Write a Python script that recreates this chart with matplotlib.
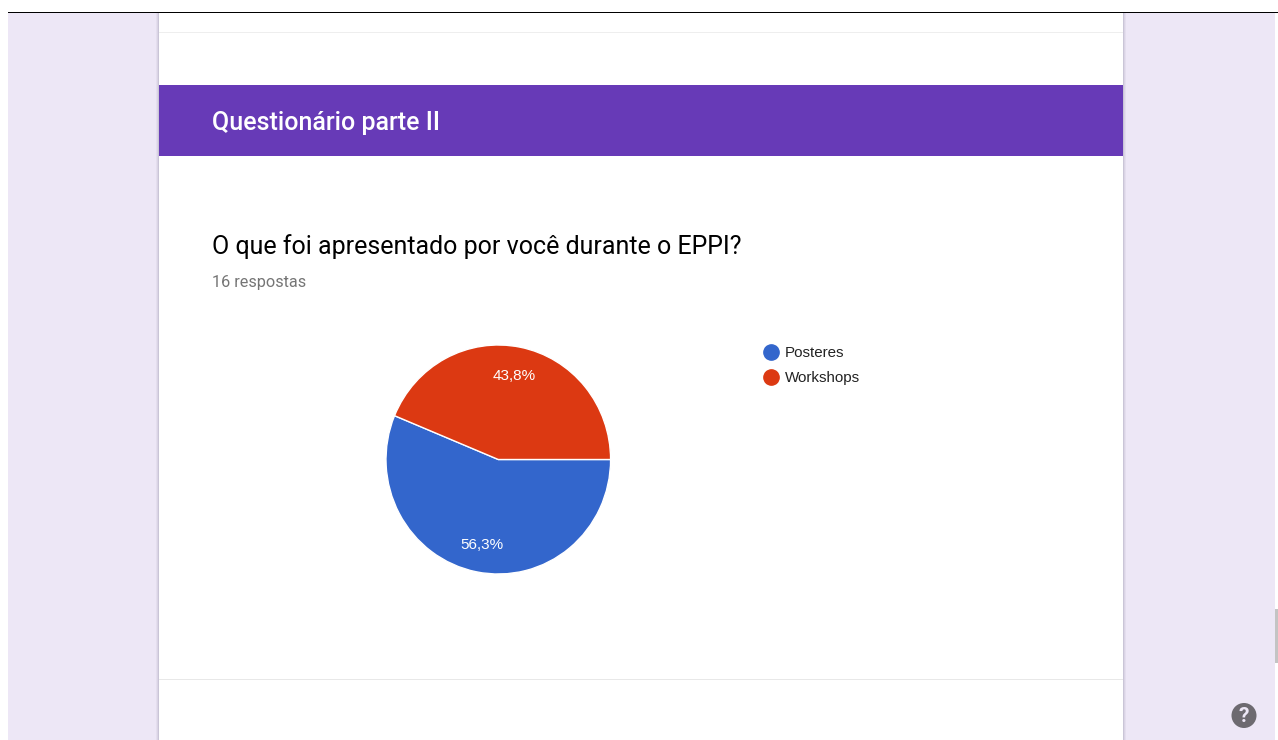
import math
import matplotlib
matplotlib.use("Agg")
import matplotlib.pyplot as plt
from matplotlib.lines import Line2D
from matplotlib.patches import Rectangle, Circle

labels = ["Posteres", "Workshops"]
counts = [9, 7]
percent_labels = ["56,3%", "43,8%"]
colors = ["#3366cc", "#dc3912"]

header_title = "Questionário parte II"
question = "O que foi apresentado por você durante o EPPI?"
responses = "16 respostas"

W, H = 1278, 740
fig = plt.figure(figsize=(W / 100, H / 100), dpi=100, facecolor="white")

# page background, in pixel coordinates
bg = fig.add_axes([0, 0, 1, 1])
bg.set_xlim(0, W)
bg.set_ylim(H, 0)
bg.axis("off")


def rect(x0, y0, x1, y1, color, alpha=1.0, z=1):
    bg.add_patch(Rectangle((x0, y0), x1 - x0, y1 - y0, fc=color, ec="none", alpha=alpha, zorder=z))


rect(8, 12, 1275, H, "#ede7f6")
rect(159, 12, 1123, H, "white", z=2)
rect(8, 12, W, 13, "black", z=5)
rect(1275, 609, 1278, 663, "#c4c4c4")

# card shadow
for i, a in enumerate([0.24, 0.13, 0.06]):
    rect(158 - i, 13, 159 - i, H, "#5e5a78", alpha=a, z=3)
    rect(1123 + i, 13, 1124 + i, H, "#5e5a78", alpha=a, z=3)

rect(159, 32, 1123, 33, "#eeeeee", z=3)
rect(159, 679, 1123, 680, "#e8e8e8", z=3)
rect(159, 85, 1123, 156, "#673ab7", z=3)

bg.text(212, 123, header_title, color="white", fontsize=18, family="Roboto", weight="medium",
        va="center", ha="left", zorder=6)
bg.text(212, 247, question, color="#000000", fontsize=18, family="Roboto",
        va="center", ha="left", zorder=6)
bg.text(212, 282, responses, color="#757575", fontsize=11.7, family="Roboto",
        va="center", ha="left", zorder=6)

# help button
bg.add_patch(Circle((1244, 715.5), 12.5, fc="#6d6a70", ec="none", zorder=6))
bg.text(1244, 716, "?", color="#ede7f6", fontsize=15, family="Roboto", weight="bold",
        va="center", ha="center", zorder=7)

# pie, slightly taller than wide as in the screenshot
cx, cy, rx, ry = 498.3, 459.5, 112.3, 114.5
ax = fig.add_axes([(cx - rx) / W, 1 - (cy + ry) / H, 2 * rx / W, 2 * ry / H])
ax.set_zorder(5)
ax.patch.set_alpha(0)
wedges, _ = ax.pie(counts, colors=colors, startangle=0, counterclock=False, radius=1,
                   wedgeprops={"edgecolor": "white", "linewidth": 1.0})
ax.set_aspect("auto")
ax.set_xlim(-1, 1)
ax.set_ylim(-1, 1)
theta = 0
for c, lab, dist in zip(counts, percent_labels, [0.76, 0.745]):
    mid = theta - c / sum(counts) * 180
    theta -= c / sum(counts) * 360
    ax.text(dist * math.cos(math.radians(mid)), dist * math.sin(math.radians(mid)), lab,
            color="white", fontsize=11, family="Liberation Sans", ha="center", va="center")

# legend
handles = [Line2D([], [], ls="none", marker="o", ms=11, mfc=c, mec=c) for c in colors]
leg = bg.legend(handles, labels, loc="upper left", bbox_to_anchor=(750 / W, 1 - 332.5 / H),
                bbox_transform=fig.transFigure, frameon=False, handlelength=1.0, handletextpad=0.38,
                labelspacing=0.72, prop={"family": "Liberation Sans", "size": 10.9}, labelcolor="#222222")
leg.set_zorder(6)

fig.savefig("out.png", dpi=100, facecolor="white")
